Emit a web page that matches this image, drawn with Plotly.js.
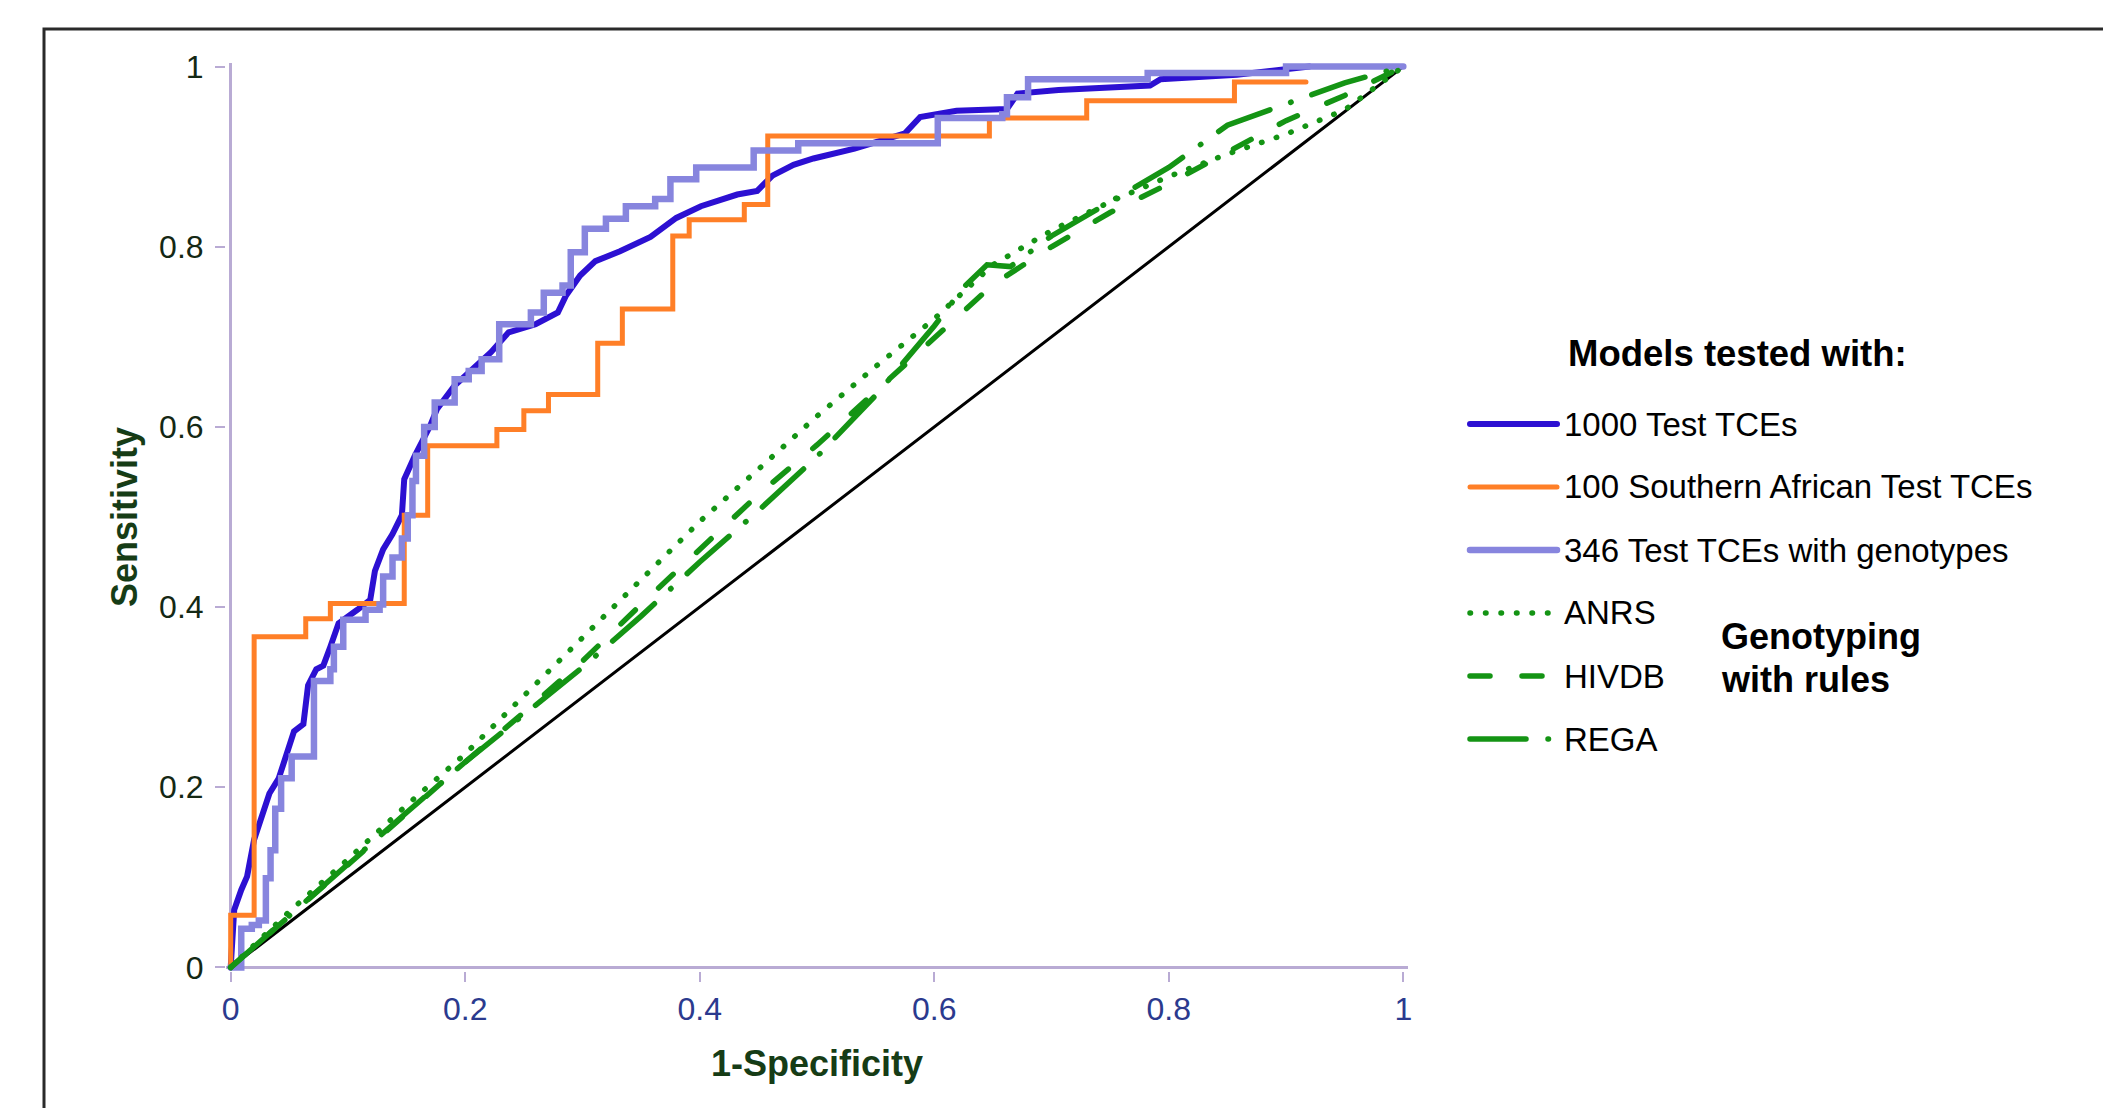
<!DOCTYPE html>
<html>
<head>
<meta charset="utf-8">
<script src="https://cdn.plot.ly/plotly-3.0.1.min.js"></script>
<style>
html, body { margin: 0; padding: 0; background: #ffffff; }
#chart { width: 2103px; height: 1108px; }
</style>
</head>
<body>
<div id="chart"></div>
<script>
// ---------------- data ----------------
const diagX = [0, 1];
const diagY = [0, 1];

const tce1000X = [0, 0.003, 0.009, 0.014, 0.020, 0.028, 0.033, 0.041, 0.047, 0.054, 0.062, 0.066, 0.073, 0.079, 0.085, 0.092, 0.108, 0.119, 0.123, 0.130, 0.138, 0.146, 0.148, 0.157, 0.170, 0.176, 0.191, 0.206, 0.222, 0.237, 0.260, 0.279, 0.286, 0.298, 0.311, 0.332, 0.358, 0.380, 0.401, 0.432, 0.449, 0.462, 0.480, 0.497, 0.532, 0.575, 0.588, 0.619, 0.662, 0.671, 0.706, 0.784, 0.793, 0.858, 0.910, 0.920];
const tce1000Y = [0, 0.064, 0.086, 0.101, 0.142, 0.176, 0.193, 0.210, 0.236, 0.262, 0.270, 0.313, 0.331, 0.335, 0.356, 0.382, 0.397, 0.408, 0.440, 0.464, 0.481, 0.502, 0.542, 0.568, 0.601, 0.620, 0.646, 0.664, 0.683, 0.705, 0.714, 0.727, 0.746, 0.768, 0.784, 0.795, 0.811, 0.832, 0.845, 0.858, 0.862, 0.879, 0.891, 0.898, 0.909, 0.926, 0.944, 0.951, 0.953, 0.970, 0.974, 0.979, 0.986, 0.991, 0.998, 1.000];

const southAfrX = [0, 0, 0.020, 0.064, 0.085, 0.148, 0.168, 0.227, 0.250, 0.271, 0.313, 0.334, 0.377, 0.391, 0.438, 0.458, 0.647, 0.730, 0.856, 0.917];
const southAfrY = [0, 0.058, 0.367, 0.387, 0.404, 0.502, 0.579, 0.597, 0.618, 0.636, 0.693, 0.731, 0.812, 0.830, 0.847, 0.923, 0.943, 0.962, 0.983, 0.983];

const geno346X = [0, 0.009, 0.018, 0.024, 0.030, 0.034, 0.038, 0.043, 0.052, 0.071, 0.085, 0.088, 0.096, 0.115, 0.127, 0.130, 0.138, 0.146, 0.151, 0.155, 0.158, 0.165, 0.174, 0.191, 0.203, 0.214, 0.229, 0.256, 0.267, 0.283, 0.290, 0.302, 0.320, 0.337, 0.362, 0.375, 0.397, 0.446, 0.484, 0.603, 0.658, 0.662, 0.680, 0.782, 0.900, 1.000];
const geno346Y = [0, 0.043, 0.047, 0.052, 0.099, 0.130, 0.176, 0.210, 0.234, 0.318, 0.331, 0.356, 0.386, 0.397, 0.403, 0.434, 0.455, 0.476, 0.502, 0.540, 0.568, 0.600, 0.627, 0.653, 0.662, 0.675, 0.714, 0.727, 0.749, 0.757, 0.794, 0.820, 0.831, 0.845, 0.853, 0.875, 0.888, 0.907, 0.915, 0.943, 0.947, 0.966, 0.986, 0.993, 1.000, 1.000];

const anrsX = [0, 0.05, 0.1, 0.15, 0.2, 0.25, 0.3, 0.35, 0.4, 0.45, 0.5, 0.55, 0.6, 0.65, 0.7, 0.75, 0.8, 0.85, 0.9, 0.95, 1];
const anrsY = [0, 0.062, 0.120, 0.180, 0.237, 0.302, 0.367, 0.432, 0.495, 0.553, 0.612, 0.667, 0.720, 0.780, 0.818, 0.850, 0.878, 0.903, 0.925, 0.952, 1];

const hivdbX = [0, 0.05, 0.1, 0.15, 0.2, 0.25, 0.3, 0.35, 0.4, 0.45, 0.5, 0.55, 0.6, 0.65, 0.7, 0.75, 0.8, 0.85, 0.9, 0.95, 1];
const hivdbY = [0, 0.057, 0.113, 0.172, 0.228, 0.283, 0.340, 0.403, 0.465, 0.525, 0.580, 0.640, 0.700, 0.758, 0.800, 0.838, 0.870, 0.905, 0.940, 0.968, 1];

const regaX = [0, 0.05, 0.1, 0.15, 0.2, 0.25, 0.3, 0.35, 0.4, 0.45, 0.5, 0.55, 0.6, 0.625, 0.645, 0.665, 0.7, 0.75, 0.8, 0.85, 0.9, 0.95, 1];
const regaY = [0, 0.058, 0.114, 0.172, 0.228, 0.280, 0.333, 0.390, 0.450, 0.507, 0.567, 0.635, 0.712, 0.755, 0.780, 0.778, 0.812, 0.850, 0.888, 0.935, 0.958, 0.982, 1];

const tickVals = [0, 0.2, 0.4, 0.6, 0.8, 1];
const tickText = ['0', '0.2', '0.4', '0.6', '0.8', '1'];

const legendTitle = 'Models tested with:';
const legendNames = ['1000 Test TCEs', '100 Southern African Test TCEs', '346 Test TCEs with genotypes', 'ANRS', 'HIVDB', 'REGA'];
const groupLabel = ['Genotyping', 'with rules'];

// ---------------- styles ----------------
const FONT = 'Arial, "Liberation Sans", Helvetica, sans-serif';
const cBlue = '#2c10d2', cOrange = '#ff7f27', cPurple = '#8785de', cGreen = '#149414';
const dotDash = '0.5px,15px';
const dashDash = '20px,32px';
const regaDash = '56px,22px,0.5px,22px';

const styles = [
  {color: cBlue, width: 6, dash: 'solid'},
  {color: cOrange, width: 5, dash: 'solid'},
  {color: cPurple, width: 6.5, dash: 'solid'},
  {color: cGreen, width: 5.5, dash: dotDash},
  {color: cGreen, width: 5.5, dash: dashDash},
  {color: cGreen, width: 5.5, dash: regaDash}
];

// ---------------- geometry ----------------
const W = 2103, H = 1108;
const M = {l: 226, r: 695, t: 63, b: 137};
const plotW = W - M.l - M.r, plotH = H - M.t - M.b;
const px2x = px => (px - M.l) / plotW;
const px2y = py => (H - M.b - py) / plotH;

const traces = [
  {x: diagX, y: diagY, mode: 'lines', line: {color: '#000000', width: 3}, hoverinfo: 'skip', showlegend: false},
  {x: tce1000X, y: tce1000Y, name: legendNames[0], mode: 'lines', line: {color: styles[0].color, width: styles[0].width}},
  {x: southAfrX, y: southAfrY, name: legendNames[1], mode: 'lines', line: {color: styles[1].color, width: styles[1].width, shape: 'hv'}},
  {x: geno346X, y: geno346Y, name: legendNames[2], mode: 'lines', line: {color: styles[2].color, width: styles[2].width, shape: 'hv'}},
  {x: anrsX, y: anrsY, name: legendNames[3], mode: 'lines', line: {color: styles[3].color, width: styles[3].width, dash: styles[3].dash}},
  {x: hivdbX, y: hivdbY, name: legendNames[4], mode: 'lines', line: {color: styles[4].color, width: styles[4].width, dash: styles[4].dash}},
  {x: regaX, y: regaY, name: legendNames[5], mode: 'lines', line: {color: styles[5].color, width: styles[5].width, dash: styles[5].dash}}
];

// manual legend, built from the names and styles above
const shapes = [
  {type: 'rect', xref: 'paper', yref: 'paper', x0: px2x(44), x1: px2x(2400), y0: px2y(1400), y1: px2y(29),
   line: {color: '#2a2a2a', width: 3}, fillcolor: 'rgba(0,0,0,0)', layer: 'below'}
];
const annotations = [
  {xref: 'paper', yref: 'paper', x: px2x(1566), y: px2y(353), xanchor: 'left', yanchor: 'middle', showarrow: false,
   text: '<b>' + legendTitle + '</b>', font: {family: FONT, size: 36.5, color: '#000000'}}
];
const rowY = [424, 487, 550, 613, 676, 739];
legendNames.forEach((nm, i) => {
  shapes.push({type: 'line', xref: 'paper', yref: 'paper', x0: px2x(1470), x1: px2x(1557), y0: px2y(rowY[i]), y1: px2y(rowY[i]),
    line: {color: styles[i].color, width: styles[i].width, dash: styles[i].dash}});
  annotations.push({xref: 'paper', yref: 'paper', x: px2x(1562), y: px2y(rowY[i]), xanchor: 'left', yanchor: 'middle', showarrow: false,
    text: nm, font: {family: FONT, size: 33, color: '#000000'}});
});
annotations.push({xref: 'paper', yref: 'paper', x: px2x(1719), y: px2y(636), xanchor: 'left', yanchor: 'middle', showarrow: false,
  text: '<b>' + groupLabel[0] + '</b>', font: {family: FONT, size: 36, color: '#000000'}});
annotations.push({xref: 'paper', yref: 'paper', x: px2x(1719), y: px2y(679), xanchor: 'left', yanchor: 'middle', showarrow: false,
  text: '<b>' + groupLabel[1] + '</b>', font: {family: FONT, size: 36, color: '#000000'}});

const axisColor = '#b9abd4';
const layout = {
  width: W, height: H,
  margin: M,
  paper_bgcolor: '#ffffff', plot_bgcolor: '#ffffff',
  showlegend: false,
  font: {family: FONT},
  xaxis: {
    range: [-0.004, 1.004], showgrid: false, showline: false,
    zeroline: true, zerolinecolor: axisColor, zerolinewidth: 2.5,
    ticks: 'outside', ticklen: 10, tickwidth: 2, tickcolor: axisColor,
    tickvals: tickVals, ticktext: tickText, ticklabelstandoff: 0,
    tickfont: {family: FONT, size: 32, color: '#2b3a8e'},
    title: {text: '<b>1-Specificity</b>', standoff: 24, font: {family: FONT, size: 36, color: '#163c16'}},
    automargin: false, fixedrange: true
  },
  yaxis: {
    range: [-0.004, 1.004], showgrid: false, showline: false,
    zeroline: true, zerolinecolor: axisColor, zerolinewidth: 2.5,
    ticks: 'outside', ticklen: 10, tickwidth: 2, tickcolor: axisColor,
    tickvals: tickVals, ticktext: tickText, ticklabelstandoff: 5,
    tickfont: {family: FONT, size: 32, color: '#142814'},
    title: {text: '<b>Sensitivity</b>', standoff: 10, font: {family: FONT, size: 36, color: '#163c16'}},
    automargin: false, fixedrange: true
  },
  shapes: shapes,
  annotations: annotations
};

Plotly.newPlot('chart', traces, layout, {staticPlot: true, displayModeBar: false}).then(() => {
  document.querySelectorAll('.scatterlayer path.js-line, .shapelayer path').forEach(p => {
    p.style.strokeLinecap = 'round';
  });
});
</script>
</body>
</html>
